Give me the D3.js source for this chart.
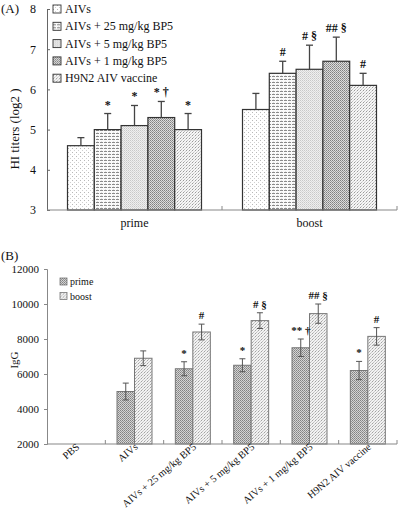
<!DOCTYPE html>
<html><head><meta charset="utf-8">
<script src="https://cdn.jsdelivr.net/npm/d3@7"></script>
<style>
body{margin:0;background:#fff;}
text{font-family:"Liberation Serif","Times New Roman",serif;fill:#111;}
</style></head>
<body><svg id="c" width="400" height="513"></svg>
<script>
// ---------- Panel A data ----------
const groupsA = ["prime", "boost"];
const seriesA = ["AIVs", "AIVs + 25 mg/kg BP5", "AIVs + 5 mg/kg BP5", "AIVs + 1 mg/kg BP5", "H9N2 AIV vaccine"];
const primeA = [4.6, 5.0, 5.1, 5.3, 5.0];
const primeErrA = [0.2, 0.4, 0.5, 0.4, 0.4];
const boostA = [5.5, 6.4, 6.5, 6.7, 6.1];
const boostErrA = [0.4, 0.3, 0.6, 0.6, 0.3];
const primeMarkA = ["", "*", "*", "* \u2020", "*"];
const boostMarkA = ["", "#", "# \u00a7", "## \u00a7", "#"];
const ticksA = [3, 4, 5, 6, 7, 8];

// ---------- Panel B data ----------
const catsB = ["PBS", "AIVs", "AIVs + 25 mg/kg BP5", "AIVs + 5 mg/kg BP5", "AIVs + 1 mg/kg BP5", "H9N2 AIV vaccine"];
const seriesB = ["prime", "boost"];
const primeB = [null, 5000, 6300, 6500, 7500, 6200];
const primeErrB = [null, 480, 400, 370, 500, 520];
const boostB = [null, 6900, 8400, 9050, 9450, 8150];
const boostErrB = [null, 420, 450, 450, 550, 500];
const primeMarkB = ["", "", "*", "*", "** \u2020", "*"];
const boostMarkB = ["", "", "#", "# \u00a7", "## \u00a7", "#"];
const ticksB = [2000, 4000, 6000, 8000, 10000, 12000];

const svg = d3.select("#c");
const defs = svg.append("defs");

// patterns
function pat(id, w, h, bg, rects) {
  const p = defs.append("pattern").attr("id", id).attr("patternUnits", "userSpaceOnUse")
    .attr("width", w).attr("height", h);
  p.append("rect").attr("width", w).attr("height", h).attr("fill", bg);
  rects.forEach(r => p.append("rect").attr("x", r[0]).attr("y", r[1]).attr("width", r[2]).attr("height", r[3]).attr("fill", r[4]));
}
pat("pA0", 4, 4, "#fff", [[0, 0, 1, 1, "#b8b8b8"], [2, 2, 1, 1, "#d0d0d0"]]);
pat("pA1", 4, 3, "#fafafa", [[0, 1, 3, 1, "#8a8a8a"], [1, 0, 1, 1, "#e0e0e0"]]);
pat("pA2", 2, 2, "#efefef", [[0, 0, 1, 1, "#c8c8c8"], [1, 1, 1, 1, "#d8d8d8"]]);
pat("pA3", 2, 2, "#dcdcdc", [[0, 0, 1, 1, "#808080"], [1, 1, 1, 1, "#9a9a9a"]]);
pat("pA4", 3, 3, "#f6f6f6", [[0, 0, 1, 1, "#9a9a9a"], [1, 2, 1, 1, "#c0c0c0"], [2, 1, 1, 1, "#d6d6d6"]]);
pat("pB0", 2, 2, "#d4d4d4", [[0, 0, 1, 1, "#828282"], [1, 1, 1, 1, "#959595"]]);
pat("pB1", 3, 3, "#f2f2f2", [[0, 0, 1, 1, "#a2a2a2"], [1, 2, 1, 1, "#bdbdbd"], [2, 1, 1, 1, "#cccccc"]]);
const fillsA = ["url(#pA0)", "url(#pA1)", "url(#pA2)", "url(#pA3)", "url(#pA4)"];
const fillsB = ["url(#pB0)", "url(#pB1)"];

// ================= Panel A =================
const x0A = d3.scaleBand().domain(groupsA).range([47, 397]);
const x1A = d3.scaleBand().domain(seriesA).range([0, x0A.bandwidth()]).paddingInner(0).paddingOuter(0.765);
const yA = d3.scaleLinear().domain([3, 8]).range([210, 9]);

const gA = svg.append("g");
const dataA = [];
groupsA.forEach((g, gi) => seriesA.forEach((s, si) => {
  dataA.push({
    g, s, si,
    v: gi === 0 ? primeA[si] : boostA[si],
    e: gi === 0 ? primeErrA[si] : boostErrA[si],
    m: gi === 0 ? primeMarkA[si] : boostMarkA[si]
  });
}));

gA.selectAll("rect.bar").data(dataA).enter().append("rect")
  .attr("x", d => x0A(d.g) + x1A(d.s))
  .attr("y", d => yA(d.v))
  .attr("width", x1A.bandwidth())
  .attr("height", d => yA(3) - yA(d.v))
  .attr("fill", d => fillsA[d.si])
  .attr("stroke", "#333").attr("stroke-width", 1.2);

const eA = gA.selectAll("g.err").data(dataA).enter().append("g");
eA.append("line")
  .attr("x1", d => x0A(d.g) + x1A(d.s) + x1A.bandwidth() / 2)
  .attr("x2", d => x0A(d.g) + x1A(d.s) + x1A.bandwidth() / 2)
  .attr("y1", d => yA(d.v)).attr("y2", d => yA(d.v + d.e))
  .attr("stroke", "#444").attr("stroke-width", 1.3);
eA.append("line")
  .attr("x1", d => x0A(d.g) + x1A(d.s) + x1A.bandwidth() / 2 - 3.5)
  .attr("x2", d => x0A(d.g) + x1A(d.s) + x1A.bandwidth() / 2 + 3.5)
  .attr("y1", d => yA(d.v + d.e)).attr("y2", d => yA(d.v + d.e))
  .attr("stroke", "#444").attr("stroke-width", 1.3);
eA.append("text")
  .attr("x", d => x0A(d.g) + x1A(d.s) + x1A.bandwidth() / 2)
  .attr("y", d => yA(d.v + d.e) - 5)
  .attr("text-anchor", "middle").attr("font-size", 12).attr("font-weight", "bold")
  .text(d => d.m);

const axYA = d3.axisLeft(yA).tickValues(ticksA).tickSize(-3).tickPadding(11).tickFormat(d3.format("d"));
const gyA = svg.append("g").attr("transform", "translate(47,0)").call(axYA);
gyA.select(".domain").attr("stroke", "#666");
gyA.selectAll(".tick line").attr("stroke", "#666");
gyA.selectAll(".tick text").attr("font-size", 12).attr("font-family", "Liberation Serif");

svg.append("line").attr("x1", 47).attr("x2", 397).attr("y1", yA(3)).attr("y2", yA(3))
  .attr("stroke", "#888").attr("stroke-width", 1.2);
[x0A.range()[0] + x0A.step(), x0A.range()[1]].forEach(x => {
  svg.append("line").attr("x1", x).attr("x2", x).attr("y1", yA(3) - 4).attr("y2", yA(3)).attr("stroke", "#888");
});
svg.selectAll("text.grpA").data(groupsA).enter().append("text")
  .attr("x", d => x0A(d) + x0A.bandwidth() / 2).attr("y", 227)
  .attr("text-anchor", "middle").attr("font-size", 12).text(d => d);

svg.append("text").attr("transform", "translate(19,129) rotate(-90)")
  .attr("text-anchor", "middle").attr("font-size", 13).text("HI titers  (log2 )");
svg.append("text").attr("x", 1).attr("y", 13).attr("font-size", 13).text("(A)");

const lgA = svg.selectAll("g.lgA").data(seriesA).enter().append("g")
  .attr("transform", (d, i) => `translate(53,${9 + i * 17.3})`);
lgA.append("rect").attr("x", 0).attr("y", -4).attr("width", 8).attr("height", 8)
  .attr("fill", (d, i) => fillsA[i]).attr("stroke", "#333").attr("stroke-width", 0.9);
lgA.append("text").attr("x", 12).attr("y", 4).attr("font-size", 12).text(d => d);

// ================= Panel B =================
const x0B = d3.scaleBand().domain(catsB).range([47, 397]);
const x1B = d3.scaleBand().domain(seriesB).range([0, x0B.bandwidth()]).paddingInner(0).paddingOuter(0.667);
const yB = d3.scaleLinear().domain([2000, 12000]).range([444, 269]);

const dataB = [];
catsB.forEach((c, ci) => seriesB.forEach((s, si) => {
  const v = si === 0 ? primeB[ci] : boostB[ci];
  if (v == null) return;
  dataB.push({
    c, s, si, v,
    e: si === 0 ? primeErrB[ci] : boostErrB[ci],
    m: si === 0 ? primeMarkB[ci] : boostMarkB[ci]
  });
}));
const gB = svg.append("g");
gB.selectAll("rect").data(dataB).enter().append("rect")
  .attr("x", d => x0B(d.c) + x1B(d.s))
  .attr("y", d => yB(d.v))
  .attr("width", x1B.bandwidth())
  .attr("height", d => yB(2000) - yB(d.v))
  .attr("fill", d => fillsB[d.si])
  .attr("stroke", "#777").attr("stroke-width", 1);
const eB = gB.selectAll("g.err").data(dataB).enter().append("g");
const cx = d => x0B(d.c) + x1B(d.s) + x1B.bandwidth() / 2;
eB.append("line").attr("x1", cx).attr("x2", cx)
  .attr("y1", d => yB(d.v - d.e)).attr("y2", d => yB(d.v + d.e))
  .attr("stroke", "#555").attr("stroke-width", 1);
[-1, 1].forEach(sg => {
  eB.append("line").attr("x1", d => cx(d) - 3).attr("x2", d => cx(d) + 3)
    .attr("y1", d => yB(d.v + sg * d.e)).attr("y2", d => yB(d.v + sg * d.e))
    .attr("stroke", "#555").attr("stroke-width", 1);
});
eB.append("text").attr("x", cx).attr("y", d => yB(d.v + d.e) - 5)
  .attr("text-anchor", "middle").attr("font-size", 11).attr("font-weight", "bold")
  .text(d => d.m);

const axYB = d3.axisLeft(yB).tickValues(ticksB).tickSize(3).tickPadding(5).tickFormat(d3.format("d"));
const gyB = svg.append("g").attr("transform", "translate(47,0)").call(axYB);
gyB.select(".domain").attr("stroke", "#888");
gyB.selectAll(".tick line").attr("stroke", "#888");
gyB.selectAll(".tick text").attr("font-size", 11).attr("font-family", "Liberation Serif");

svg.append("line").attr("x1", 47).attr("x2", 397).attr("y1", yB(2000)).attr("y2", yB(2000))
  .attr("stroke", "#888").attr("stroke-width", 1.2);
catsB.forEach((c, i) => {
  const x = x0B(c) + x0B.bandwidth();
  svg.append("line").attr("x1", x).attr("x2", x).attr("y1", yB(2000) - 4).attr("y2", yB(2000)).attr("stroke", "#888");
});
svg.selectAll("text.catB").data(catsB).enter().append("text")
  .attr("transform", d => `translate(${x0B(d) + x0B.bandwidth() / 2 + 4},${448}) rotate(-40)`)
  .attr("text-anchor", "end").attr("font-size", 10.3).text(d => d);

svg.append("text").attr("transform", "translate(18,360) rotate(-90)")
  .attr("text-anchor", "middle").attr("font-size", 11).text("IgG");
svg.append("text").attr("x", 1).attr("y", 260).attr("font-size", 13).text("(B)");

const lgB = svg.selectAll("g.lgB").data(seriesB).enter().append("g")
  .attr("transform", (d, i) => `translate(60,${282 + i * 14.5})`);
lgB.append("rect").attr("x", 0).attr("y", -4).attr("width", 7).attr("height", 7)
  .attr("fill", (d, i) => fillsB[i]).attr("stroke", "#777").attr("stroke-width", 0.8);
lgB.append("text").attr("x", 10).attr("y", 3).attr("font-size", 10).text(d => d);
</script></body></html>
